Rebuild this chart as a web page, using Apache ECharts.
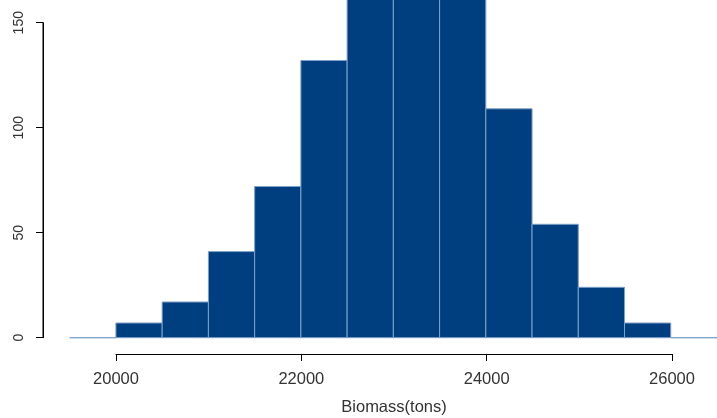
<!DOCTYPE html>
<html>
<head>
<meta charset="utf-8">
<title>Biomass histogram</title>
<script src="https://cdn.jsdelivr.net/npm/echarts@6/dist/echarts.min.js"></script>
<style>
  html, body { margin: 0; padding: 0; background: #ffffff; }
  #chart { width: 717px; height: 418px; }
</style>
</head>
<body>
<div id="chart"></div>
<script>
// Histogram bins (500-ton wide) and their counts
const binEdges = [19500, 20000, 20500, 21000, 21500, 22000, 22500, 23000,
                  23500, 24000, 24500, 25000, 25500, 26000, 26500];
const counts = [0, 7, 17, 41, 72, 132, 172, 190, 175, 109, 54, 24, 7, 0];

// Axis tick values
const xTicks = [20000, 22000, 24000, 26000];
const yTicks = [0, 50, 100, 150];

const barData = counts.map((c, i) => [binEdges[i], binEdges[i + 1], c]);

const FONT = '"Liberation Sans", Arial, Helvetica, sans-serif';
const TEXT = '#333333';
const plain = v => String(v);

const chart = echarts.init(document.getElementById('chart'), null, { renderer: 'canvas' });

chart.setOption({
  animation: false,
  backgroundColor: '#ffffff',
  grid: [
    // plotting region for the bars
    { left: 69.7, top: 0, width: 648.6, height: 337.7 },
    // detached x axis spanning only the tick range
    { left: 116, top: 300, width: 556, height: 54 },
    // detached y axis spanning only the tick range
    { left: 43, top: 22.7, width: 20, height: 315 }
  ],
  xAxis: [
    { gridIndex: 0, type: 'value', min: binEdges[0], max: binEdges[binEdges.length - 1], show: false },
    {
      gridIndex: 1, type: 'value', min: xTicks[0], max: xTicks[xTicks.length - 1], interval: 2000,
      position: 'bottom',
      axisLine: { show: true, onZero: false, lineStyle: { color: '#000', width: 1 } },
      axisTick: { show: true, length: 7, lineStyle: { color: '#000', width: 1 } },
      axisLabel: { show: true, margin: 17, fontSize: 16.5, color: TEXT, fontFamily: FONT, formatter: plain },
      splitLine: { show: false },
      name: 'Biomass(tons)', nameLocation: 'middle', nameGap: 45,
      nameTextStyle: { fontSize: 16.5, color: TEXT, fontFamily: FONT }
    },
    { gridIndex: 2, type: 'value', min: 0, max: 1, show: false }
  ],
  yAxis: [
    { gridIndex: 0, type: 'value', min: 0, max: 160.8, show: false },
    { gridIndex: 1, type: 'value', min: 0, max: 1, show: false },
    {
      gridIndex: 2, type: 'value', min: yTicks[0], max: yTicks[yTicks.length - 1], interval: 50,
      position: 'left',
      axisLine: { show: true, onZero: false, lineStyle: { color: '#000', width: 1 } },
      axisTick: { show: true, length: 7, lineStyle: { color: '#000', width: 1 } },
      axisLabel: { show: true, rotate: 90, margin: 17, fontSize: 14, color: TEXT, fontFamily: FONT, formatter: plain },
      splitLine: { show: false }
    }
  ],
  series: [
    {
      type: 'custom',
      xAxisIndex: 0,
      yAxisIndex: 0,
      clip: false,
      data: barData,
      encode: { x: [0, 1], y: 2 },
      renderItem: function (params, api) {
        const topLeft = api.coord([api.value(0), api.value(2)]);
        const bottomRight = api.coord([api.value(1), 0]);
        return {
          type: 'rect',
          shape: {
            x: topLeft[0],
            y: topLeft[1],
            width: bottomRight[0] - topLeft[0],
            height: bottomRight[1] - topLeft[1]
          },
          style: { fill: '#003F7F', stroke: '#7FA0C8', lineWidth: 1 }
        };
      }
    },
    {
      // vertical axis spine from the first to the last tick
      type: 'line',
      xAxisIndex: 2,
      yAxisIndex: 2,
      data: [[0, yTicks[0]], [0, yTicks[yTicks.length - 1]]],
      symbol: 'none',
      silent: true,
      lineStyle: { color: '#000', width: 1 }
    }
  ]
});
</script>
</body>
</html>
